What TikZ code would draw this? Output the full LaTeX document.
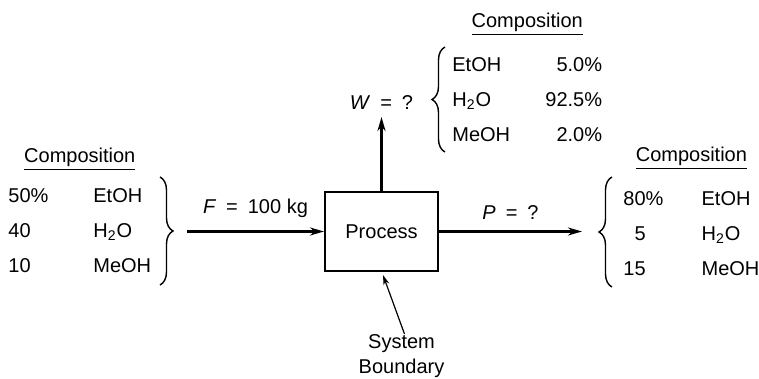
\documentclass[tikz,border=0pt]{standalone}
\usepackage{fontspec}
\setmainfont{Liberation Sans}
\usetikzlibrary{positioning}
\usetikzlibrary{arrows.meta}
\usetikzlibrary{decorations.pathreplacing}
\renewcommand{\arraystretch}{1.4}
\newcommand{\comp}{\underline{Composition}}

\begin{document}
\begin{tikzpicture}[x=0.5pt,y=-0.5pt,txt/.style={inner sep=0pt,font=\fontsize{10}{12.5}\selectfont},
proc/.style={txt,draw,line width=1pt,minimum width=56.5pt,minimum height=39.5pt},
flow/.style={-{Stealth[length=7pt,width=4pt]},line width=1.3pt},
ptr/.style={-{Stealth[length=5pt,width=3pt]},line width=0.6pt},
brc/.style={decorate,decoration={brace,amplitude=6.5pt},line width=0.7pt}]
\useasboundingbox (0,0) rectangle (759,379);
\node[txt,anchor=west] (ltab) at (8,230) {\begin{tabular}{@{}p{42.5pt}@{}l@{}}50\%&EtOH\\40&H\textsubscript{2}O\\10&MeOH\end{tabular}};
\node[txt,above=3.25pt of ltab] (lttl) {\comp};
\node[txt,anchor=west] (rtab) at (623,233) {\begin{tabular}{@{}r@{\hspace{28pt}}l@{}}80\rlap{\%}&EtOH\\5&H\textsubscript{2}O\\15&MeOH\end{tabular}};
\node[txt,above=5pt of rtab] (rttl) {\comp};
\node[txt,anchor=west] (ttab) at (452,100) {\begin{tabular}{@{}p{46.5pt}@{}r@{}}EtOH&5.0\%\\H\textsubscript{2}O&92.5\%\\MeOH&2.0\%\end{tabular}};
\node[txt,above=5.75pt of ttab] (tttl) {\comp};
\coordinate (lb1) at (160,177); \coordinate (lb2) at (160,285); \draw[brc] (lb1)--(lb2);
\coordinate (rb1) at (612,287); \coordinate (rb2) at (612,177); \draw[brc] (rb1)--(rb2);
\coordinate (tb1) at (445,152); \coordinate (tb2) at (445,47); \draw[brc] (tb1)--(tb2);
\node[proc] (proc) at (381.5,231.5) {Process};
\coordinate (fin) at (187,231.5); \coordinate (pout) at (582,231.5); \coordinate (wout) at (381.5,117);
\draw[flow] (fin)--node[txt,above=6.5pt] (flbl) {\textit{F}\enspace=\enspace100 kg} (proc);
\draw[flow] (proc)--node[txt,above=5.5pt] (plbl) {\textit{P}\enspace=\enspace?} (pout);
\draw[flow] (proc)--(wout);
\node[txt,above=3.5pt of wout] (wlbl) {\textit{W}\enspace=\enspace?};
\node[txt,align=center,below=31pt of proc,xshift=10pt] (bnd) {System\\Boundary};
\draw[ptr] ([xshift=1.5pt]bnd.north)--([xshift=0.75pt,yshift=-1.5pt]proc.south);
\end{tikzpicture}
\end{document}
